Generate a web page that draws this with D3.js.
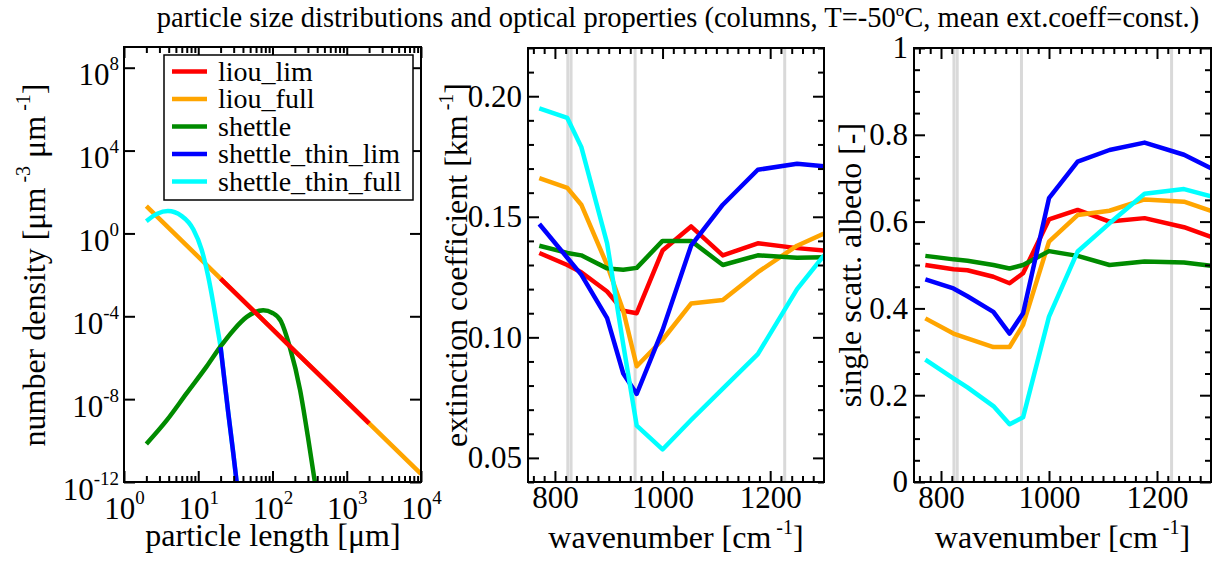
<!DOCTYPE html>
<html>
<head>
<meta charset="utf-8">
<script src="https://cdn.jsdelivr.net/npm/d3@7"></script>
<style>
  body { margin: 0; background: #fff; }
  svg { display: block; font-family: "Liberation Serif", "Times New Roman", serif; }
</style>
</head>
<body>
<svg id="chart" width="1212" height="563"></svg>
<script>
// ---- series definitions ----
const seriesNames  = ["liou_lim", "liou_full", "shettle", "shettle_thin_lim", "shettle_thin_full"];
const seriesColors = ["#ff0000", "#ffa500", "#008b00", "#0000ff", "#00ffff"];

// ---- particle size distributions: length [µm], number density [µm^-3 µm^-1] ----
const liouLimLength     = [20, 200, 2000];
const liouLimDensity    = [6.6e-3, 2.1e-6, 6.8e-10];
const liouFullLength    = [2, 20, 200, 2000, 10000];
const liouFullDensity   = [20.9, 6.6e-3, 2.1e-6, 6.8e-10, 2.45e-12];
const shettleLength     = [2, 3.8, 7, 13, 20, 30, 45, 75, 100, 130, 170, 235, 300, 372];
const shettleDensity    = [6.9e-11, 1e-9, 1.95e-8, 3.8e-7, 3.5e-6, 2.2e-5, 9.3e-5, 1.95e-4, 1.45e-4, 5.8e-5, 3.5e-6, 2.8e-8, 1.5e-10, 1e-12];
const thinLimLength     = [20, 21.7, 25.4, 29.6, 32.9];
const thinLimDensity    = [3.2e-6, 2.6e-7, 2.1e-9, 2.5e-11, 1e-12];
const thinFullLength    = [2, 2.8, 3.9, 6, 8.6, 11.1, 13.6, 15.8, 18.2, 20, 21.7, 25.4, 29.6, 32.9];
const thinFullDensity   = [3.9, 8.9, 12, 6.9, 1.55, 0.166, 8.5e-3, 5e-4, 2.5e-5, 3.2e-6, 2.6e-7, 2.1e-9, 2.5e-11, 1e-12];

// ---- optical properties vs wavenumber [cm^-1] ----
const wavenumbers = [771, 823, 849, 897, 927, 952, 1000, 1053, 1112, 1177, 1250, 1300];
const extLiouLim   = [0.135, 0.130, 0.127, 0.119, 0.111, 0.110, 0.136, 0.146, 0.134, 0.139, 0.137, 0.136];
const extLiouFull  = [0.166, 0.162, 0.155, 0.130, 0.111, 0.088, 0.099, 0.114, 0.1155, 0.127, 0.138, 0.143];
const extShettle   = [0.138, 0.135, 0.134, 0.1286, 0.128, 0.1288, 0.140, 0.140, 0.130, 0.134, 0.133, 0.1332];
const extThinLim   = [0.147, 0.133, 0.126, 0.108, 0.085, 0.0765, 0.103, 0.138, 0.155, 0.1695, 0.172, 0.171];
const extThinFull  = [0.195, 0.191, 0.179, 0.139, 0.097, 0.0634, 0.0535, 0.0657, 0.0787, 0.093, 0.120, 0.134];

const albLiouLim   = [0.500, 0.490, 0.488, 0.473, 0.458, 0.481, 0.605, 0.627, 0.600, 0.608, 0.587, 0.565];
const albLiouFull  = [0.377, 0.342, 0.331, 0.311, 0.311, 0.362, 0.554, 0.615, 0.625, 0.651, 0.646, 0.625];
const albShettle   = [0.521, 0.513, 0.510, 0.500, 0.492, 0.500, 0.532, 0.521, 0.500, 0.508, 0.506, 0.498];
const albThinLim   = [0.467, 0.446, 0.428, 0.392, 0.342, 0.389, 0.654, 0.738, 0.765, 0.782, 0.754, 0.723];
const albThinFull  = [0.282, 0.239, 0.218, 0.175, 0.133, 0.149, 0.381, 0.531, 0.596, 0.664, 0.675, 0.658];

// microwindow markers [cm^-1]
const windowLines = [824, 830, 949, 1227];

// tick values
const lengthTicks   = [1, 10, 100, 1000, 10000];
const densityTicks  = [1e-12, 1e-8, 1e-4, 1, 1e4, 1e8];
const waveTicks     = [800, 1000, 1200];
const extTicks      = [0.05, 0.10, 0.15, 0.20];
const albTicks      = [0, 0.2, 0.4, 0.6, 0.8, 1];

// ---- layout ----
const svg = d3.select("#chart");
const TICK_FONT = 31, TITLE_FONT = 32, MAJOR = 11, MINOR = 6;

const P1 = { x0: 124, x1: 421, y0: 47, y1: 482 };
const P2 = { x0: 528, x1: 824, y0: 48, y1: 482 };
const P3 = { x0: 914, x1: 1211, y0: 48, y1: 482 };

function richText(sel, parts, supSize, raise) {
  let up = false;
  parts.forEach(([t, sup]) => {
    const ts = sel.append("tspan").text(t);
    if (sup) {
      ts.attr("font-size", supSize);
      if (!up) { ts.attr("dy", -raise); up = true; }
    } else if (up) {
      ts.attr("dy", raise); up = false;
    }
  });
}

function styleAxis(g) {
  g.attr("font-family", null).attr("font-size", null);
  g.select(".domain").remove();
  g.selectAll(".tick line").attr("stroke", "#000").attr("stroke-width", 2);
  g.selectAll(".tick text").attr("fill", "#000");
}

function drawTicks(P, x, y, xMajor, xMinor, yMajor, yMinor, xFmt, yFmt) {
  const g = svg.append("g");
  const mk = (axis, tx, ty, vals, size, fmt, pad) => {
    const a = axis.tickValues(vals).tickSize(-size).tickSizeOuter(0)
      .tickFormat(fmt || (() => "")).tickPadding(pad || 0);
    const sel = g.append("g").attr("transform", `translate(${tx},${ty})`).call(a);
    styleAxis(sel);
    return sel;
  };
  // minor ticks
  if (xMinor.length) {
    mk(d3.axisBottom(x), 0, P.y1, xMinor, MINOR);
    mk(d3.axisTop(x), 0, P.y0, xMinor, MINOR);
  }
  if (yMinor.length) {
    mk(d3.axisLeft(y), P.x0, 0, yMinor, MINOR);
    mk(d3.axisRight(y), P.x1, 0, yMinor, MINOR);
  }
  // major ticks with labels
  const bx = mk(d3.axisBottom(x), 0, P.y1, xMajor, MAJOR, xFmt, 4);
  mk(d3.axisTop(x), 0, P.y0, xMajor, MAJOR);
  const ly = mk(d3.axisLeft(y), P.x0, 0, yMajor, MAJOR, yFmt, 6);
  mk(d3.axisRight(y), P.x1, 0, yMajor, MAJOR);
  bx.selectAll(".tick text").attr("font-size", TICK_FONT);
  ly.selectAll(".tick text").attr("font-size", TICK_FONT);
  return { bx, ly };
}

function frame(P) {
  svg.append("rect").attr("x", P.x0).attr("y", P.y0)
    .attr("width", P.x1 - P.x0).attr("height", P.y1 - P.y0)
    .attr("fill", "none").attr("stroke", "#000").attr("stroke-width", 2);
}

function clip(id, P) {
  svg.append("clipPath").attr("id", id).append("rect")
    .attr("x", P.x0).attr("y", P.y0).attr("width", P.x1 - P.x0).attr("height", P.y1 - P.y0);
}

// ---- title ----
const title = svg.append("text").attr("x", 678).attr("y", 27)
  .attr("text-anchor", "middle").attr("font-size", 28.5);
richText(title, [["particle size distributions and optical properties (columns, T=-50", false], ["o", true],
  ["C, mean ext.coeff=const.)", false]], 17, 11);

// ================= panel 1: size distributions =================
const x1 = d3.scaleLog().domain([1, 1e4]).range([P1.x0, P1.x1]);
const y1 = d3.scaleLog().domain([1e-12, 1e9]).range([P1.y1, P1.y0]);
clip("clip1", P1);

const g1 = svg.append("g").attr("clip-path", "url(#clip1)");
const line1 = d3.line().x(d => x1(d[0])).y(d => y1(d[1])).curve(d3.curveMonotoneX);
const zip = (a, b) => a.map((v, i) => [v, b[i]]);
const psd = [
  { data: zip(liouFullLength, liouFullDensity), color: seriesColors[1] },
  { data: zip(thinFullLength, thinFullDensity), color: seriesColors[4] },
  { data: zip(shettleLength, shettleDensity), color: seriesColors[2] },
  { data: zip(liouLimLength, liouLimDensity), color: seriesColors[0] },
  { data: zip(thinLimLength, thinLimDensity), color: seriesColors[3] }
];
g1.selectAll("path").data(psd).join("path")
  .attr("d", d => line1(d.data)).attr("fill", "none")
  .attr("stroke", d => d.color).attr("stroke-width", 4.5).attr("stroke-linejoin", "round");

const lenMinor = x1.ticks().filter(v => !lengthTicks.includes(v));
const t1 = drawTicks(P1, x1, y1, lengthTicks, lenMinor, densityTicks, [], d => "", d => "");
frame(P1);

// power-of-ten labels
function powLabels(sel) {
  sel.selectAll(".tick text").each(function(d) {
    const e = Math.round(Math.log10(d));
    const t = d3.select(this).text(null);
    richText(t, [["10", false], [String(e), true]], 19, 15);
  });
}
powLabels(t1.bx);
t1.bx.selectAll(".tick text").attr("dy", "1.08em");
powLabels(t1.ly);
t1.ly.selectAll(".tick text").attr("dy", "0.55em").attr("x", -5);

// legend
const leg = svg.append("g");
leg.append("rect").attr("x", 164).attr("y", 55).attr("width", 249).attr("height", 145)
  .attr("fill", "#fff").attr("stroke", "#000").attr("stroke-width", 1.5);
seriesNames.forEach((name, i) => {
  const cy = 71.5 + i * 27.5;
  leg.append("line").attr("x1", 172).attr("x2", 207).attr("y1", cy).attr("y2", cy)
    .attr("stroke", seriesColors[i]).attr("stroke-width", 4.5);
  leg.append("text").attr("x", 218).attr("y", cy).attr("dy", "0.33em")
    .attr("font-size", 28).text(name);
});

// axis titles
const yt1 = svg.append("text").attr("transform", "translate(45,265) rotate(-90)")
  .attr("text-anchor", "middle").attr("font-size", TITLE_FONT);
richText(yt1, [["number density [μm", false], [" -3", true], [" μm", false], [" -1", true], ["]", false]], 20, 15);
svg.append("text").attr("x", 273).attr("y", 546).attr("text-anchor", "middle")
  .attr("font-size", TITLE_FONT).text("particle length [μm]");

// ================= panels 2 & 3: optical properties =================
function opticalPanel(P, yDomain, yMajor, yMinorStep, series, yFmt, yTitle, yTitleX, clipId) {
  const x = d3.scaleLinear().domain([750, 1300]).range([P.x0, P.x1]);
  const y = d3.scaleLinear().domain(yDomain).range([P.y1, P.y0]);
  clip(clipId, P);
  const g = svg.append("g").attr("clip-path", `url(#${clipId})`);
  g.selectAll("line.win").data(windowLines).join("line").attr("class", "win")
    .attr("x1", d => x(d)).attr("x2", d => x(d)).attr("y1", P.y0).attr("y2", P.y1)
    .attr("stroke", "#d9d9d9").attr("stroke-width", 3);
  const line = d3.line().x(d => x(d[0])).y(d => y(d[1]));
  g.selectAll("path").data(series).join("path")
    .attr("d", d => line(zip(wavenumbers, d))).attr("fill", "none")
    .attr("stroke", (d, i) => seriesColors[i]).attr("stroke-width", 4.5)
    .attr("stroke-linejoin", "round");

  const xMinor = d3.range(760, 1300, 20).filter(v => !waveTicks.includes(v));
  const yMinor = d3.range(Math.round(yDomain[0] / yMinorStep), Math.round(yDomain[1] / yMinorStep) + 1)
    .map(k => +(k * yMinorStep).toFixed(4)).filter(v => !yMajor.some(m => Math.abs(m - v) < 1e-6));
  drawTicks(P, x, y, waveTicks, xMinor, yMajor, yMinor, d3.format("d"), yFmt);
  frame(P);

  const yt = svg.append("text").attr("transform", `translate(${yTitleX},265) rotate(-90)`)
    .attr("text-anchor", "middle").attr("font-size", TITLE_FONT);
  richText(yt, yTitle, 20, 14);
  const xt = svg.append("text").attr("x", (P.x0 + P.x1) / 2).attr("y", 548)
    .attr("text-anchor", "middle").attr("font-size", TITLE_FONT);
  richText(xt, [["wavenumber [cm", false], [" -1", true], ["]", false]], 20, 14);
}

opticalPanel(P2, [0.04, 0.22], extTicks, 0.01,
  [extLiouLim, extLiouFull, extShettle, extThinLim, extThinFull],
  d3.format(".2f"), [["extinction coefficient [km", false], [" -1", true], ["]", false]], 467, "clip2");

opticalPanel(P3, [0, 1], albTicks, 0.05,
  [albLiouLim, albLiouFull, albShettle, albThinLim, albThinFull],
  d => (d === 0 || d === 1) ? String(d) : d3.format(".1f")(d),
  [["single scatt. albedo [-]", false]], 861, "clip3");
</script>
</body>
</html>
